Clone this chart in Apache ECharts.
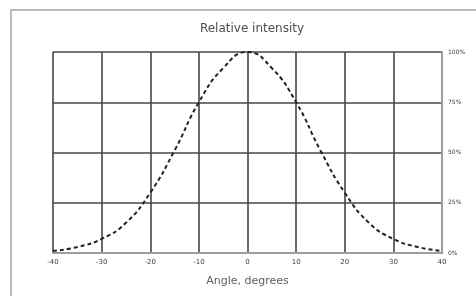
<!DOCTYPE html>
<html>
<head>
<meta charset="utf-8">
<script src="https://cdn.jsdelivr.net/npm/echarts@6/dist/echarts.min.js"></script>
<style>
  html, body { margin: 0; padding: 0; background: #fff; }
  #chart { width: 476px; height: 296px; }
</style>
</head>
<body>
<div id="chart"></div>
<script>
// angle in degrees, intensity in percent
var angles = [-40, -35, -30, -25, -20, -15, -10, -5, 0, 5, 10, 15, 20, 25, 30, 35, 40]
var intensity = [1, 3, 7, 15, 30, 51, 75, 92, 100, 92, 75, 51, 30, 15, 7, 3, 1]
var yTicks = [0, 25, 50, 75, 100]

var gridColor = '#41474a'
var labelColor = '#3c4143'

var points = []
for (var i = 0; i < angles.length; i++) {
  points.push([angles[i], intensity[i]])
}

var option = {
  animation: false,
  backgroundColor: '#fff',
  title: {
    text: 'Relative intensity',
    left: 247,
    top: 18,
    textAlign: 'center',
    textStyle: {
      fontSize: 12,
      fontWeight: 'normal',
      fontFamily: 'DejaVu Sans',
      color: '#4a4f51'
    }
  },
  graphic: [{
    type: 'rect',
    shape: { x: 11, y: 10, width: 480, height: 300 },
    style: { fill: 'none', stroke: '#b7bcbc', lineWidth: 2 },
    silent: true
  }],
  grid: {
    left: 53,
    right: 34,
    top: 52,
    bottom: 43
  },
  xAxis: {
    type: 'value',
    min: -40,
    max: 40,
    interval: 10,
    name: 'Angle, degrees',
    nameLocation: 'middle',
    nameGap: 23,
    nameTextStyle: {
      fontSize: 11,
      fontFamily: 'DejaVu Sans',
      color: '#5b6062'
    },
    axisLine: { show: true, onZero: false, lineStyle: { color: '#9aa0a2', width: 2 } },
    axisTick: { show: false },
    axisLabel: {
      fontSize: 7,
      fontFamily: 'DejaVu Sans',
      color: labelColor,
      margin: 6
    },
    splitLine: { show: true, lineStyle: { color: gridColor, width: 1.6 } }
  },
  yAxis: {
    type: 'value',
    position: 'right',
    min: 0,
    max: 100,
    interval: 25,
    axisLine: { show: true, onZero: false, lineStyle: { color: '#9aa0a2', width: 2 } },
    axisTick: { show: false },
    axisLabel: {
      fontSize: 6,
      fontFamily: 'DejaVu Sans',
      color: labelColor,
      margin: 6,
      formatter: function (v) {
        return yTicks.indexOf(v) >= 0 ? v + '%' : ''
      }
    },
    splitLine: { show: true, lineStyle: { color: gridColor, width: 1.6 } }
  },
  series: [{
    type: 'line',
    data: points,
    smooth: 0.5,
    symbol: 'none',
    lineStyle: {
      color: '#222',
      width: 2,
      type: [4, 3]
    },
    z: 5
  }]
}

var myChart = echarts.init(document.getElementById('chart'))
myChart.setOption(option)
</script>
</body>
</html>
